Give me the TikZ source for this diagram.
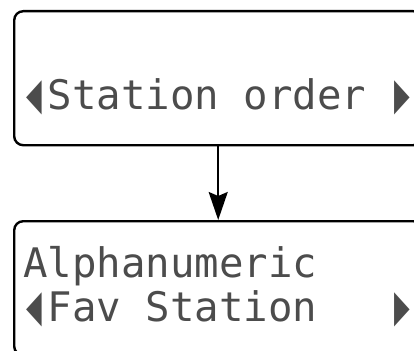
\documentclass[tikz,border=0pt]{standalone}
\usepackage{fontspec}
\usepackage{graphicx}
\usetikzlibrary{arrows.meta}
\newfontfamily\trifont{DejaVu Sans}
\newfontfamily\lcdface{DejaVu Sans Mono}
\newcommand{\lcdfont}{\lcdface\fontsize{40.7pt}{40.7pt}\selectfont}
\newcommand{\lcdtri}[1]{\makebox[0.602em][l]{\hspace{0.08em}\scalebox{0.5}[1.1]{\trifont #1}}}

\begin{document}
\begin{tikzpicture}[x=1pt,y=-1pt,
		box/.style={draw, line width=2.4pt, rounded corners=9pt, inner sep=0pt,
			minimum width=408pt, minimum height=134pt, anchor=north west},
		lcd/.style={inner sep=0pt, anchor=base west, font=\lcdfont, text=black!70}]
		\useasboundingbox (0,0) rectangle (414,350);
		\clip (0,0) rectangle (414,350);
		% displays
		\node[box] (order) at (13,10) {};
		\node[box] (alpha) at (13,220) {};
		% display texts
		\node[lcd] (orderline) at (23,110) {\lcdtri{◀}Station order \lcdtri{▶}};
		\node[lcd] (alphaline) at (23,277) {Alphanumeric};
		\node[lcd] (favline) at (23,321) {\lcdtri{◀}Fav Station\ \ \ \lcdtri{▶}};
		% step
		\draw[line width=2pt, -{Stealth[length=28pt, width=19pt, inset=4pt]}]
			(order.south) -- (alpha.north);
	\end{tikzpicture}
\end{document}
